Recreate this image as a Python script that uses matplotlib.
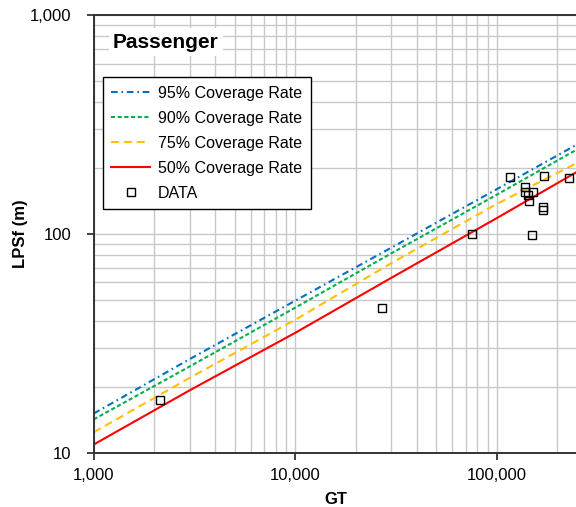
import matplotlib
matplotlib.use("Agg")
import matplotlib.pyplot as plt
from matplotlib.ticker import FuncFormatter, LogLocator, NullFormatter

plt.rcParams['font.family'] = ['Liberation Sans', 'DejaVu Sans']

# regression curves (coverage rate) evaluated at these GT values
gt_curve = [1000, 3000, 10000, 30000, 100000, 250000]
lpsf_95 = [15.1, 26.8, 49.5, 86.5, 160, 256]
lpsf_90 = [14.2, 24.8, 46.0, 81.5, 151, 243]
lpsf_75 = [12.4, 22.0, 40.5, 73.5, 137, 211]
lpsf_50 = [10.9, 19.3, 35.3, 63.0, 118, 192]

# observed passenger ships
gt_data = [2126, 26850, 75700, 116400, 171700, 227600, 138000, 138000,
           150700, 143300, 144900, 168800, 168800, 148900]
lpsf_data = [17.5, 46.0, 100, 182, 184.5, 180.7, 163, 156,
             156, 150.7, 141, 133, 128.5, 98.9]

fig = plt.figure(figsize=(5.76, 5.07), dpi=100)
ax = fig.add_axes([0.1627, 0.1071, 0.8390, 0.8633])

ax.plot(gt_curve, lpsf_95, color='#0070C0', lw=1.5, ls=(0, (3.2, 1.8, 0.8, 1.8)),
        label='95% Coverage Rate')
ax.plot(gt_curve, lpsf_90, color='#00B050', lw=1.5, ls=(0, (2.0, 1.2)),
        label='90% Coverage Rate')
ax.plot(gt_curve, lpsf_75, color='#FFC000', lw=1.5, ls=(0, (3.8, 2.4)),
        label='75% Coverage Rate')
ax.plot(gt_curve, lpsf_50, color='#FF0000', lw=1.5, ls='-',
        label='50% Coverage Rate')
ax.plot(gt_data, lpsf_data, ls='none', marker='s', ms=6, mfc='none',
        mec='black', mew=1.0, label='DATA')

ax.set_xscale('log')
ax.set_yscale('log')
ax.set_xlim(1000, 250000)
ax.set_ylim(10, 1000)

ax.xaxis.set_minor_locator(LogLocator(base=10, subs=range(2, 10)))
ax.yaxis.set_minor_locator(LogLocator(base=10, subs=range(2, 10)))
ax.xaxis.set_minor_formatter(NullFormatter())
ax.yaxis.set_minor_formatter(NullFormatter())
comma = FuncFormatter(lambda v, p: f"{int(round(v)):,}")
ax.xaxis.set_major_formatter(comma)
ax.yaxis.set_major_formatter(comma)

ax.grid(True, which='both', color='#c8c8c8', lw=1.0)
ax.set_axisbelow(True)
ax.tick_params(which='major', direction='out', length=5, width=1.2,
               labelsize=12, color='#222222')
ax.tick_params(axis='y', which='major', pad=11)
ax.tick_params(axis='x', which='major', pad=6)
ax.tick_params(which='minor', length=0)

for side in ['left', 'bottom', 'top']:
    ax.spines[side].set_color('#333333')
    ax.spines[side].set_linewidth(1.4)
ax.spines['right'].set_visible(False)

ax.set_xlabel('GT', fontsize=12, fontweight='bold')
ax.set_ylabel('LPSf (m)', fontsize=12, fontweight='bold')
ax.xaxis.set_label_coords(0.5, -0.108)
ax.yaxis.set_label_coords(-0.151, 0.5)
ax.xaxis.label.set_va('center')
ax.yaxis.label.set_va('center')

ax.text(0.04, 0.938, 'Passenger', transform=ax.transAxes, fontsize=15,
        fontweight='bold', va='center', ha='left',
        bbox=dict(facecolor='white', edgecolor='none', pad=3))

leg = ax.legend(loc='upper left', bbox_to_anchor=(0.0186, 0.8577),
                borderaxespad=0, fontsize=11.5, frameon=True, fancybox=False,
                edgecolor='black', framealpha=1, handlelength=2.4,
                handletextpad=0.5, labelspacing=0.62, borderpad=0.55)
leg.get_frame().set_linewidth(1.0)

fig.savefig('out.png', dpi=100)
